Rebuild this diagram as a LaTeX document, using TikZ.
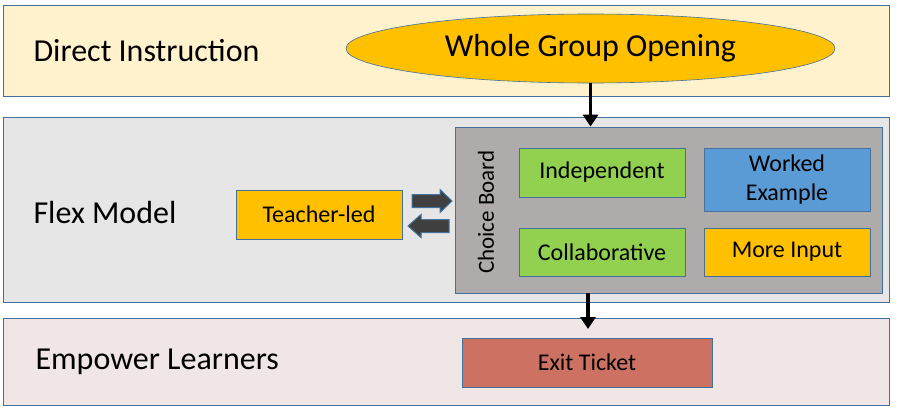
\documentclass[tikz,border=0pt]{standalone}
\usepackage{fontspec}
\setmainfont{Carlito}
\usetikzlibrary{shapes.geometric,arrows.meta}
\definecolor{bord}{HTML}{41719C}
\definecolor{bandA}{HTML}{FFF2CC}
\definecolor{bandB}{HTML}{E7E6E6}
\definecolor{bandC}{HTML}{F0E6E6}
\definecolor{gold}{HTML}{FFC000}
\definecolor{cboard}{HTML}{AFABAB}
\definecolor{lgreen}{HTML}{92D050}
\definecolor{lblue}{HTML}{5B9BD5}
\definecolor{salmon}{HTML}{CD7262}
\definecolor{darr}{HTML}{404040}
\tikzset{
  band/.style={draw=bord, line width=0.8pt},
  bandlabel/.style={anchor=west, font=\fontsize{32}{36}\selectfont},
  box/.style={draw=bord, line width=0.8pt, minimum width=166pt, inner sep=0pt, align=center, font=\fontsize{24}{28}\selectfont},
  flow/.style={line width=3.5pt, -{Triangle[length=12pt,width=15pt]}},
  blockarrow/.style={draw=bord, fill=darr, line width=1pt, line join=miter}
}
\begin{document}
\begin{tikzpicture}[x=1pt,y=-1pt]
\useasboundingbox (0,0) rectangle (899,412);
\fill[white] (0,0) rectangle (899,412);
% bands
\draw[band, fill=bandA] (3,5) rectangle (889,96);
\draw[band, fill=bandB] (3,117) rectangle (889,302);
\draw[band, fill=bandC] (3,318) rectangle (889,405);
\node[bandlabel] (di) at (30,51) {Direct Instruction};
\node[bandlabel] (fm) at (30,212) {Flex Model};
\node[bandlabel] (el) at (32,362) {Empower Learners};
% ellipse
\node[ellipse, draw=bord, fill=gold, line width=0.6pt, minimum width=489pt, minimum height=69pt, inner sep=0pt, font=\fontsize{32}{36}\selectfont] (wgo) at (590.5,48.5) {Whole Group Opening};
% choice board
\node[draw=bord, fill=cboard, line width=0.8pt, minimum width=427pt, minimum height=166pt, inner sep=0pt] (cb) at (668.5,210) {};
\node[rotate=90, font=\fontsize{23}{26}\selectfont] (cbl) at (486,212) {Choice Board};
\node[box, fill=lgreen, minimum height=49pt] (ind) at (602,172.5) {Independent};
\node[box, fill=lblue, minimum height=63pt] (we) at (787,179.5) {Worked\\[1pt]Example};
\node[box, fill=lgreen, minimum height=48pt] (col) at (602,252) {Collaborative};
\node[box, fill=gold, minimum height=48pt] (mi) at (787,252) {More Input};
% teacher-led
\node[box, fill=gold, minimum height=49pt] (tl) at (319,214.5) {Teacher-led};
% block arrows
\draw[blockarrow] (412,194.5) -- (440,194.5) -- (440,189.5) -- (452,201) -- (440,212.5) -- (440,207.5) -- (412,207.5) -- cycle;
\draw[blockarrow] (449,219.5) -- (421,219.5) -- (421,214.5) -- (408,226) -- (421,237.5) -- (421,232.5) -- (449,232.5) -- cycle;
% exit ticket
\node[draw=bord, fill=salmon, line width=0.8pt, minimum width=250pt, minimum height=49pt, inner sep=0pt, font=\fontsize{24}{28}\selectfont] (et) at (587,362.5) {Exit Ticket};
% flows
\draw[flow] (wgo.south) -- (cb.north -| wgo.south);
\coordinate (etop) at (588,329);
\draw[flow] (cb.south -| etop) -- (etop);
\end{tikzpicture}
\end{document}
